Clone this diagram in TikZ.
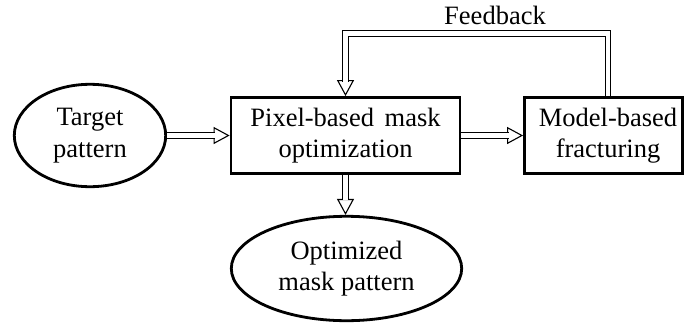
\documentclass[tikz,border=0pt]{standalone}
\usepackage{fontspec}
\setmainfont{Liberation Serif}
\newfontfamily\timesfont{Liberation Serif}
\usetikzlibrary{shapes.geometric,arrows.meta}
\tikzset{
  lbl/.style={font=\timesfont\fontsize{26.5}{31.5}\selectfont, align=center, inner sep=0pt},
  boxnode/.style={lbl, draw, line width=2.8pt, rectangle},
  ellnode/.style={lbl, draw, line width=2.8pt, ellipse},
  dblarrow/.style={draw, line width=1.1pt, -{Triangle[length=16pt,width=17pt,fill=white]},
    postaction={draw, -, line width=1.1pt, double=white, double distance=4.5pt, shorten >=14.5pt}}
}
\begin{document}
\begin{tikzpicture}[x=1pt,y=1pt]
\useasboundingbox (0,0) rectangle (685,-324);
\node[ellnode, minimum width=151.4pt, minimum height=102.4pt] (t) at (90,-135.5) {Target\\pattern};
\node[boxnode, minimum width=229pt, minimum height=76pt] (p) at (345.5,-135.5) {Pixel-based\hspace{0.15em} mask\\optimization};
\node[boxnode, minimum width=158pt, minimum height=76pt] (m) at (603.5,-135.5) {};
\node[lbl] (mt) at (608,-135.5) {Model-based\\fracturing};
\node[ellnode, minimum width=230.4pt, minimum height=104.4pt] (o) at (346.5,-268.5) {Optimized\\mask pattern};
\node[lbl, anchor=base] (fb) at (495,-24) {Feedback};
\draw[dblarrow] (t.east) -- (p.west);
\draw[dblarrow] (p.east) -- (m.west);
\draw[dblarrow] (p.south) -- (p.south |- o.north);
\draw[dblarrow] (mt.north |- m.north) -- ++(0,62.5) -| (p.north);
\end{tikzpicture}
\end{document}
